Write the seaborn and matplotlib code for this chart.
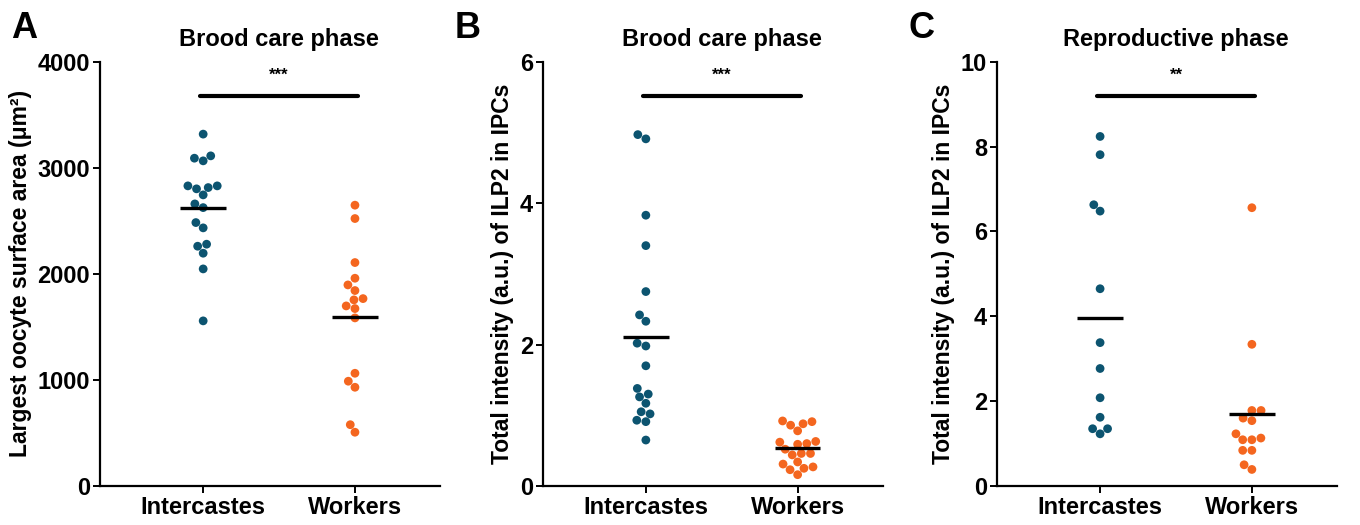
import numpy as np
import pandas as pd
import matplotlib
matplotlib.use("Agg")
import matplotlib.pyplot as plt
import seaborn as sns

groups = ["Intercastes", "Workers"]

# panel A: largest oocyte surface area, brood care phase
oocyte_inter = [3318, 3113, 3066, 3091, 2830, 2802, 2745, 2814, 2830, 2660, 2625,
                2484, 2434, 2280, 2261, 2195, 2047, 1557]
oocyte_work = [2648, 2522, 2107, 1959, 1896, 1843, 1767, 1755, 1698, 1673, 1585,
               1063, 988, 931, 578, 507]

# panel B: ILP2 intensity, brood care phase
ilp_brood_inter = [4.91, 4.97, 3.83, 3.40, 2.75, 2.33, 2.42, 2.02, 1.98, 1.70, 1.38,
                   1.30, 1.26, 1.17, 1.05, 1.02, 0.93, 0.91, 0.65]
ilp_brood_work = [0.91, 0.86, 0.78, 0.88, 0.92, 0.63, 0.60, 0.52, 0.59, 0.62, 0.46,
                  0.44, 0.46, 0.34, 0.31, 0.25, 0.23, 0.27, 0.16]

# panel C: ILP2 intensity, reproductive phase
ilp_repro_inter = [8.24, 7.81, 6.63, 6.48, 4.65, 3.38, 2.77, 2.08, 1.62, 1.35, 1.23, 1.35]
ilp_repro_work = [6.56, 3.34, 1.78, 1.78, 1.60, 1.54, 1.23, 1.13, 1.09, 1.09, 0.84,
                  0.84, 0.50, 0.39]

titles = ["Brood care phase", "Brood care phase", "Reproductive phase"]
ylabels = ["Largest oocyte surface area (μm²)",
           "Total intensity (a.u.) of ILP2 in IPCs",
           "Total intensity (a.u.) of ILP2 in IPCs"]
stars = ["***", "***", "**"]
letters = ["A", "B", "C"]
ymax = [4000, 6, 10]
yticks = [[0, 1000, 2000, 3000, 4000], [0, 2, 4, 6], [0, 2, 4, 6, 8, 10]]

colors = {"Intercastes": "#0c5470", "Workers": "#f4661f"}

sns.set_style("ticks")
plt.rcParams['font.family'] = ['Liberation Sans', 'DejaVu Sans']
plt.rcParams['font.weight'] = 'bold'
plt.rcParams['text.color'] = 'black'
plt.rcParams['axes.labelcolor'] = 'black'
plt.rcParams['xtick.color'] = 'black'
plt.rcParams['ytick.color'] = 'black'
plt.rcParams['axes.edgecolor'] = 'black'

fig = plt.figure(figsize=(13.6, 5.25), dpi=100)
lefts = [0.0735, 0.399, 0.733]
panels = [(oocyte_inter, oocyte_work), (ilp_brood_inter, ilp_brood_work),
          (ilp_repro_inter, ilp_repro_work)]

for i, (a, b) in enumerate(panels):
    ax = fig.add_axes([lefts[i], 0.0743, 0.25, 0.808])
    df = pd.DataFrame({"group": ["Intercastes"] * len(a) + ["Workers"] * len(b),
                       "value": a + b})
    sns.swarmplot(data=df, x="group", y="value", hue="group", order=groups,
                  palette=colors, size=6.3, ax=ax, legend=False, linewidth=0)
    means = df.groupby("group")["value"].mean()
    for j, g in enumerate(groups):
        ax.hlines(means[g], j - 0.15, j + 0.15, color="black", lw=2.4, zorder=5)

    ax.set_xlim(-0.68, 1.56)
    ax.set_ylim(0, ymax[i])
    ax.set_yticks(yticks[i])
    ax.set_xlabel("")
    ax.set_ylabel(ylabels[i], fontsize=16.5, fontweight="bold", labelpad=4)
    ax.tick_params(labelsize=17, width=1.4, length=5, pad=2)
    for lab in ax.get_xticklabels() + ax.get_yticklabels():
        lab.set_fontweight("bold")
    sns.despine(ax=ax)
    for s in ["left", "bottom"]:
        ax.spines[s].set_linewidth(1.6)

    tr = ax.get_xaxis_transform()
    ax.plot([-0.02, 1.02], [0.92, 0.92], color="black", lw=3, transform=tr,
            clip_on=False)
    ax.text(0.5, 0.968, stars[i], transform=tr, ha="center", va="center",
            fontsize=12, fontweight="bold")
    ax.text(0.5, 1.052, titles[i], transform=tr, ha="center", va="center",
            fontsize=17, fontweight="bold")
    fig.text(lefts[i] - 0.065, 0.945, letters[i], fontsize=26, fontweight="bold",
             ha="left", va="center")

fig.savefig("out.png", dpi=100)
